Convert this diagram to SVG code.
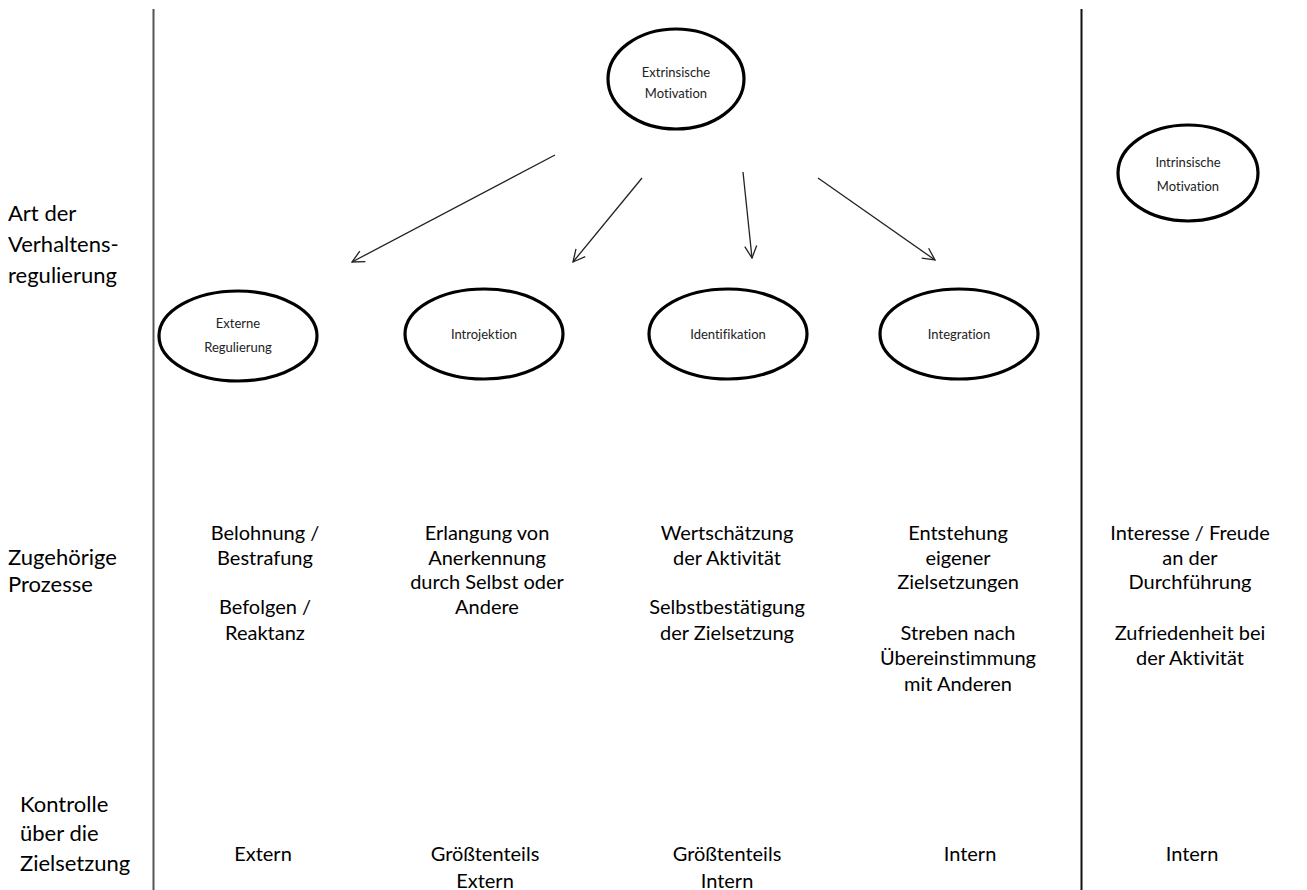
<svg xmlns="http://www.w3.org/2000/svg" width="1307" height="890" viewBox="0 0 1307 890">
<style>
text{font-variant-ligatures:none;font-feature-settings:"liga" 0}
.el{fill:#fff;stroke:#000;stroke-width:3.2}
.et{font-family:Lato,"Liberation Sans",sans-serif;font-size:13px;fill:#222;text-anchor:middle;dominant-baseline:central}
.bt{font-family:Lato,"Liberation Sans",sans-serif;font-size:20px;fill:#000;text-anchor:middle;dominant-baseline:central}
.lt{font-family:Lato,"Liberation Sans",sans-serif;font-size:22px;fill:#000;dominant-baseline:central}
.ar{stroke:#222;stroke-width:1.3;fill:none;marker-end:url(#ah)}
</style>
<defs>
<marker id="ah" viewBox="0 0 14 14" refX="13" refY="7" markerWidth="14" markerHeight="14" markerUnits="userSpaceOnUse" orient="auto">
<path d="M1,1 L13,7 L1,13" fill="none" stroke="#222" stroke-width="1.3"/>
</marker>
</defs>
<rect width="1307" height="890" fill="#fff"/>
<g id="dividers">
<line x1="153.5" y1="9" x2="153.5" y2="890" stroke="#555" stroke-width="2"/>
<line x1="1081.5" y1="9" x2="1081.5" y2="890" stroke="#111" stroke-width="2"/>
</g>
<g id="row-labels">
<text class="lt" x="8" y="212">Art der</text>
<text class="lt" x="8" y="243">Verhaltens-</text>
<text class="lt" x="8" y="274">regulierung</text>
<text class="lt" x="8" y="556">Zugehörige</text>
<text class="lt" x="8" y="583">Prozesse</text>
<text class="lt" x="20" y="803">Kontrolle</text>
<text class="lt" x="20" y="832">über die</text>
<text class="lt" x="20" y="862">Zielsetzung</text>
</g>
<g id="connectors">
<line class="ar" x1="555" y1="155" x2="352" y2="262"/>
<line class="ar" x1="642" y1="178" x2="573" y2="262"/>
<line class="ar" x1="743" y1="172" x2="752" y2="258"/>
<line class="ar" x1="818" y1="178" x2="935" y2="260"/>
</g>
<g id="extrinsisch">
<ellipse class="el" cx="676" cy="79" rx="68" ry="50"/>
<text class="et" x="676" y="72">Extrinsische</text>
<text class="et" x="676" y="93">Motivation</text>
</g>
<g id="intrinsisch">
<ellipse class="el" cx="1188" cy="173" rx="70" ry="48"/>
<text class="et" x="1188" y="162">Intrinsische</text>
<text class="et" x="1188" y="186">Motivation</text>
</g>
<g id="externe">
<ellipse class="el" cx="238" cy="336" rx="79" ry="45"/>
<text class="et" x="238" y="323">Externe</text>
<text class="et" x="238" y="347">Regulierung</text>
</g>
<g id="introjektion">
<ellipse class="el" cx="484" cy="334" rx="79" ry="45"/>
<text class="et" x="484" y="334">Introjektion</text>
</g>
<g id="identifikation">
<ellipse class="el" cx="728" cy="334" rx="79" ry="45"/>
<text class="et" x="728" y="334">Identifikation</text>
</g>
<g id="integration">
<ellipse class="el" cx="959" cy="334" rx="79" ry="45"/>
<text class="et" x="959" y="334">Integration</text>
</g>
<g id="prozesse">
<text class="bt" x="265" y="532">Belohnung /</text>
<text class="bt" x="265" y="557">Bestrafung</text>
<text class="bt" x="265" y="606">Befolgen /</text>
<text class="bt" x="265" y="632">Reaktanz</text>
<text class="bt" x="487" y="532">Erlangung von</text>
<text class="bt" x="487" y="557">Anerkennung</text>
<text class="bt" x="487" y="581">durch Selbst oder</text>
<text class="bt" x="487" y="606">Andere</text>
<text class="bt" x="727" y="532">Wertschätzung</text>
<text class="bt" x="727" y="557">der Aktivität</text>
<text class="bt" x="727" y="606">Selbstbestätigung</text>
<text class="bt" x="727" y="632">der Zielsetzung</text>
<text class="bt" x="958" y="532">Entstehung</text>
<text class="bt" x="958" y="557">eigener</text>
<text class="bt" x="958" y="581">Zielsetzungen</text>
<text class="bt" x="958" y="632">Streben nach</text>
<text class="bt" x="958" y="657">Übereinstimmung</text>
<text class="bt" x="958" y="683">mit Anderen</text>
<text class="bt" x="1190" y="532">Interesse / Freude</text>
<text class="bt" x="1190" y="557">an der</text>
<text class="bt" x="1190" y="581">Durchführung</text>
<text class="bt" x="1190" y="632">Zufriedenheit bei</text>
<text class="bt" x="1190" y="657">der Aktivität</text>
</g>
<g id="kontrolle">
<text class="bt" x="263" y="853">Extern</text>
<text class="bt" x="485" y="853">Größtenteils</text>
<text class="bt" x="485" y="880">Extern</text>
<text class="bt" x="727" y="853">Größtenteils</text>
<text class="bt" x="727" y="880">Intern</text>
<text class="bt" x="970" y="853">Intern</text>
<text class="bt" x="1192" y="853">Intern</text>
</g>
</svg>
